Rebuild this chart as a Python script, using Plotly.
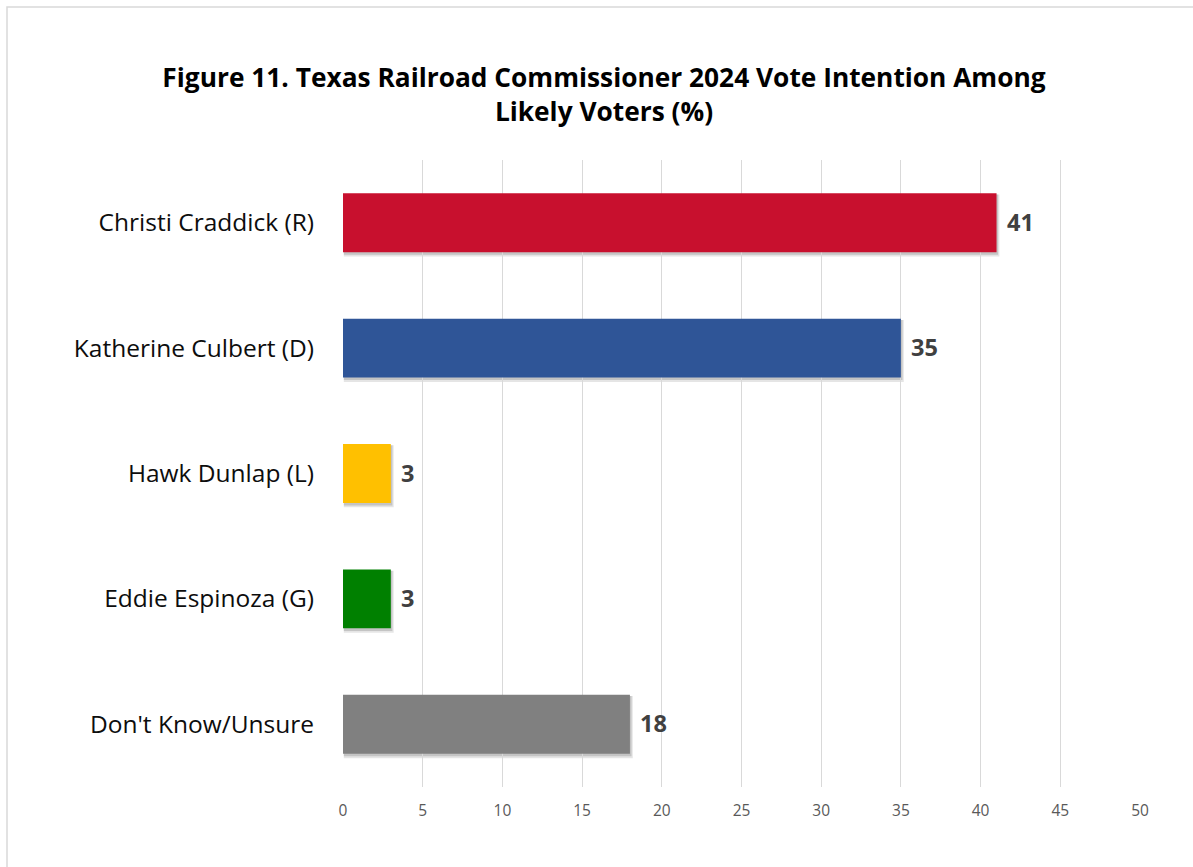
import plotly.graph_objects as go

# Vote intention data (%)
candidates = [
    "Christi Craddick (R)",
    "Katherine Culbert (D)",
    "Hawk Dunlap (L)",
    "Eddie Espinoza (G)",
    "Don't Know/Unsure",
]
shares = [41, 35, 3, 3, 18]
bar_colors = ["#C8102E", "#2F5597", "#FFC000", "#008000", "#808080"]
x_ticks = [0, 5, 10, 15, 20, 25, 30, 35, 40, 45, 50]

FONT = "Open Sans"
W, H = 1193, 867
ML, MR, MT, MB = 343, 53, 160, 80

fig = go.Figure()

# soft drop shadow under each bar (two layers for a blurred edge)
shadow_shapes = []
bar_half = 0.235
for i, v in enumerate(shares):
    for dx, dy, a in [(0.18, 0.035, 0.10), (0.10, 0.02, 0.14)]:
        shadow_shapes.append(dict(
            type="rect", xref="x", yref="y", layer="below",
            x0=0.05, x1=v + dx, y0=i - bar_half + 0.01, y1=i + bar_half + dy,
            fillcolor=f"rgba(0,0,0,{a})", line=dict(width=0),
        ))

fig.add_trace(go.Bar(
    x=shares,
    y=list(range(len(candidates))),
    orientation="h",
    marker=dict(color=bar_colors, line=dict(width=0)),
    width=2 * bar_half,
    hoverinfo="skip",
))

annotations = []
for i, v in enumerate(shares):
    annotations.append(dict(
        x=v, y=i, xref="x", yref="y", text=str(v), showarrow=False,
        xanchor="left", yanchor="middle", xshift=8, yshift=1,
        font=dict(family=FONT, size=23.5, color="#404040", weight="bold"),
    ))

# outer chart frame
PW, PH = W - ML - MR, H - MT - MB
frame = dict(
    type="rect", xref="paper", yref="paper", layer="below",
    x0=(7 - ML) / PW, x1=(W + 20 - ML) / PW,
    y0=-(MB + 20) / PH, y1=1 + (MT - 7) / PH,
    line=dict(color="#D9D9D9", width=1.5), fillcolor="rgba(0,0,0,0)",
)

fig.update_layout(
    width=W, height=H,
    margin=dict(l=ML, r=MR, t=MT, b=MB),
    paper_bgcolor="white", plot_bgcolor="white",
    showlegend=False,
    title=dict(
        text="<b>Figure 11. Texas Railroad Commissioner 2024 Vote Intention Among<br>Likely Voters (%)</b>",
        x=604 / W, xanchor="center", xref="container",
        y=1 - 87 / H, yanchor="middle", yref="container",
        font=dict(family=FONT, size=26.3, color="#000000"),
    ),
    xaxis=dict(
        range=[0, 50], tickvals=x_ticks, ticktext=[str(t) for t in x_ticks],
        showgrid=True, gridcolor="#D9D9D9", gridwidth=1,
        zeroline=False, showline=False, ticks="",
        tickfont=dict(family=FONT, size=15.5, color="#595959"),
        ticklabelstandoff=12,
        fixedrange=True,
    ),
    yaxis=dict(
        range=[len(candidates) - 0.5, -0.5],
        tickvals=list(range(len(candidates))), ticktext=candidates,
        showgrid=False, zeroline=False, showline=False, ticks="",
        tickfont=dict(family=FONT, size=24.5, color="#0D0D0D"),
        ticklabelstandoff=28,
        fixedrange=True,
    ),
    shapes=shadow_shapes + [frame],
    annotations=annotations,
)

fig.write_html("out.html")
